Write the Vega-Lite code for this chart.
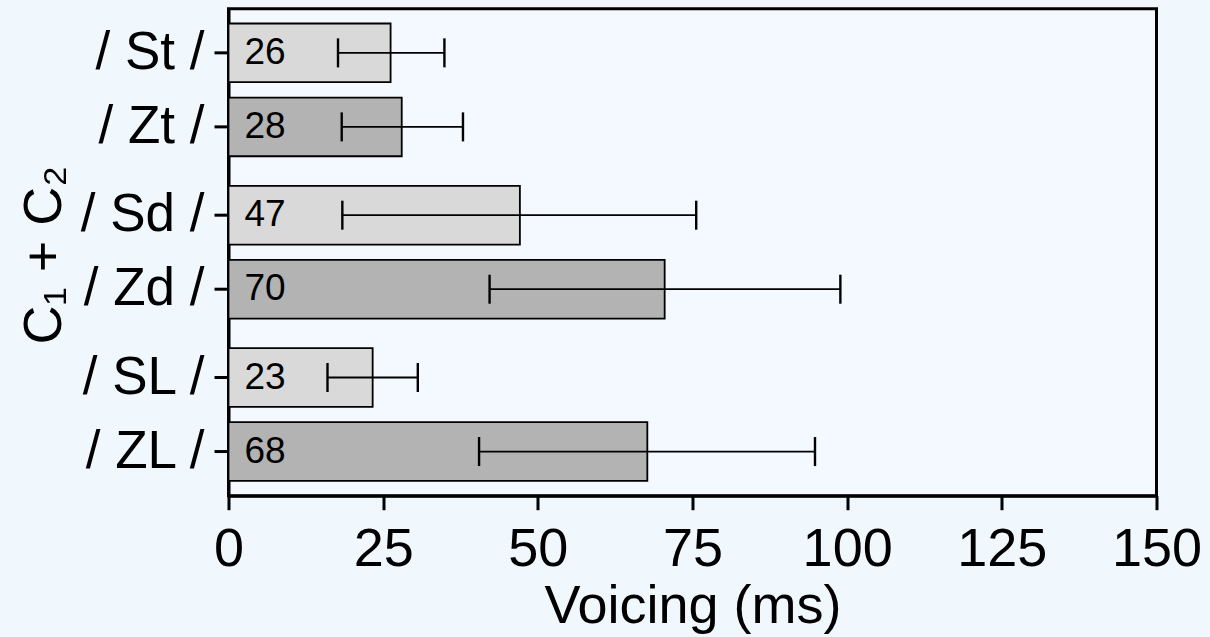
{
  "$schema": "https://vega.github.io/schema/vega-lite/v6.json",
  "autosize": "none",
  "width": 928,
  "height": 487,
  "padding": {"left": 228.5, "top": 8.7, "right": 53.5, "bottom": 141.3},
  "background": "#f0f7fd",
  "config": {
    "font": "Liberation Sans",
    "view": {"stroke": "black", "strokeWidth": 3, "fill": "#f3f9fe"}
  },
  "data": {
    "values": [
      {"grp": "t", "voice": "S", "name": "/ St /", "mean": 26.2, "lo": 17.7, "hi": 34.9, "label": "26"},
      {"grp": "t", "voice": "Z", "name": "/ Zt /", "mean": 28.0, "lo": 18.3, "hi": 37.9, "label": "28"},
      {"grp": "d", "voice": "S", "name": "/ Sd /", "mean": 47.1, "lo": 18.4, "hi": 75.6, "label": "47"},
      {"grp": "d", "voice": "Z", "name": "/ Zd /", "mean": 70.5, "lo": 42.2, "hi": 98.9, "label": "70"},
      {"grp": "L", "voice": "S", "name": "/ SL /", "mean": 23.3, "lo": 16.0, "hi": 30.6, "label": "23"},
      {"grp": "L", "voice": "Z", "name": "/ ZL /", "mean": 67.7, "lo": 40.5, "hi": 94.8, "label": "68"}
    ]
  },
  "encoding": {
    "y": {
      "field": "grp",
      "type": "nominal",
      "sort": ["t", "d", "L"],
      "scale": {"paddingInner": 0, "paddingOuter": 0},
      "axis": {
        "labels": false,
        "ticks": false,
        "domain": true,
        "domainColor": "black",
        "domainWidth": 3,
        "title": "C₁ + C₂",
        "titleFont": "Liberation Sans",
        "titleFontSize": 54,
        "titleFontWeight": "normal",
        "titleColor": "black",
        "titleAngle": -90,
        "titleAlign": "center",
        "titleBaseline": "alphabetic",
        "titleX": -168,
        "titleY": 246
      }
    },
    "yOffset": {
      "field": "voice",
      "type": "nominal",
      "sort": ["S", "Z"],
      "scale": {"paddingInner": 0.207, "paddingOuter": 0.2}
    }
  },
  "layer": [
    {
      "mark": {"type": "bar", "stroke": "black", "strokeWidth": 1.8},
      "encoding": {
        "x": {
          "field": "mean",
          "type": "quantitative",
          "scale": {"domain": [0, 150], "nice": false},
          "axis": {
            "values": [0, 25, 50, 75, 100, 125, 150],
            "grid": false,
            "domainColor": "black",
            "domainWidth": 3,
            "tickColor": "black",
            "tickWidth": 3,
            "tickSize": 14,
            "labelFont": "Liberation Sans",
            "labelFontSize": 54,
            "labelColor": "black",
            "labelBaseline": "alphabetic",
            "labelPadding": 56,
            "labelFlush": false,
            "labelOverlap": false,
            "title": "Voicing (ms)",
            "titleFont": "Liberation Sans",
            "titleFontSize": 54,
            "titleFontWeight": "normal",
            "titleColor": "black",
            "titleBaseline": "alphabetic",
            "titleY": 127
          }
        },
        "color": {
          "field": "voice",
          "type": "nominal",
          "scale": {"domain": ["S", "Z"], "range": ["#d9d9d9", "#b3b3b3"]},
          "legend": null
        }
      }
    },
    {
      "mark": {"type": "rule", "color": "black", "strokeWidth": 1.8},
      "encoding": {
        "x": {"field": "lo", "type": "quantitative"},
        "x2": {"field": "hi"}
      }
    },
    {
      "mark": {"type": "tick", "color": "black", "size": 29, "thickness": 2.4, "orient": "vertical", "opacity": 1},
      "encoding": {
        "x": {"field": "lo", "type": "quantitative"}
      }
    },
    {
      "mark": {"type": "tick", "color": "black", "size": 29, "thickness": 2.4, "orient": "vertical", "opacity": 1},
      "encoding": {
        "x": {"field": "hi", "type": "quantitative"}
      }
    },
    {
      "mark": {"type": "text", "align": "left", "baseline": "middle", "dx": 16, "fontSize": 37, "font": "Liberation Sans", "color": "black"},
      "encoding": {
        "x": {"datum": 0},
        "text": {"field": "label"}
      }
    },
    {
      "mark": {"type": "text", "align": "right", "baseline": "middle", "dx": -24, "fontSize": 53, "font": "Liberation Sans", "color": "black"},
      "encoding": {
        "x": {"datum": 0},
        "text": {"field": "name"}
      }
    },
    {
      "mark": {"type": "rule", "color": "black", "strokeWidth": 3},
      "encoding": {
        "x": {"datum": 0},
        "x2": {"datum": -2.26}
      }
    }
  ]
}
